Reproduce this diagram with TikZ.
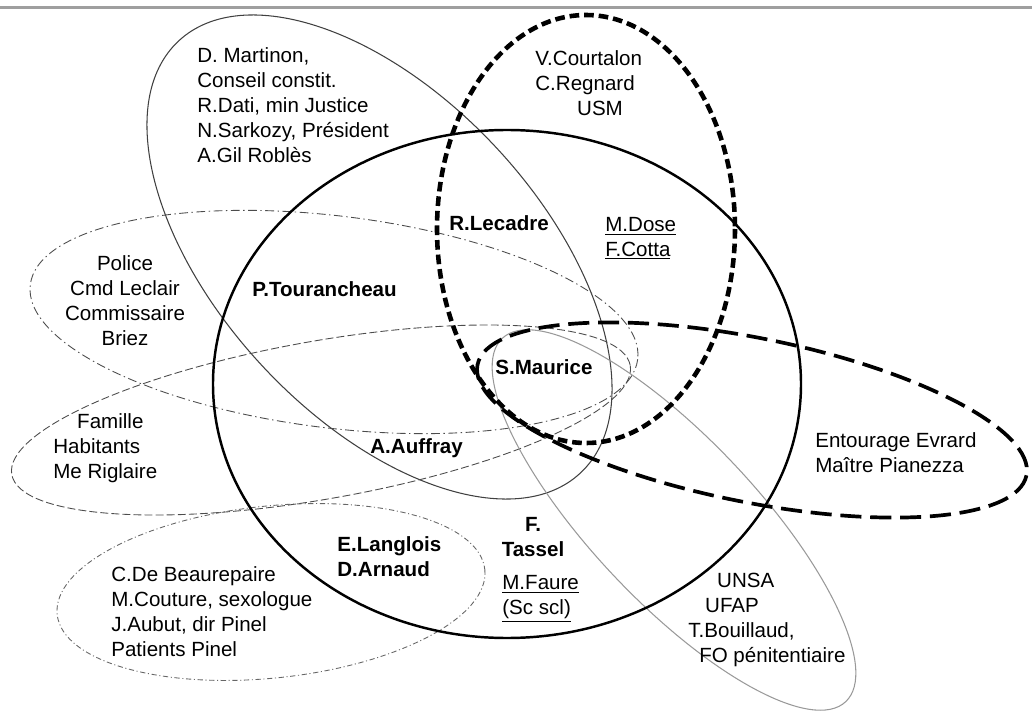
\documentclass[tikz,border=0pt]{standalone}
\usepackage{fontspec}
\setmainfont{Liberation Sans}
\usepackage{tikz}
\usepackage{xcolor}

\begin{document}
\begin{tikzpicture}[x=0.02cm,y=-0.02cm,
  every node/.style={font=\fontsize{11.7}{14.2}\selectfont,inner sep=0pt},
  txt/.style={align=left,anchor=west},
  ctxt/.style={align=center,anchor=center},
  bold/.style={font=\fontsize{11.7}{14.2}\selectfont\bfseries},
  thinring/.style={black!75,line width=0.6pt},
  mainring/.style={black,line width=1.4pt},
  usmring/.style={black,line width=2.6pt,dash pattern=on 5.5pt off 2.8pt},
  evrardring/.style={black,line width=2.1pt,dash pattern=on 12pt off 5pt},
  unsaring/.style={gray!80,line width=0.6pt},
  policering/.style={black!70,line width=0.5pt,dash pattern=on 5pt off 2pt on 0.8pt off 2pt},
  famillering/.style={black!70,line width=0.5pt,dash pattern=on 4.5pt off 1.8pt},
  pinelring/.style={black!60,line width=0.5pt,dash pattern=on 3pt off 1.5pt on 0.6pt off 1.5pt}]
\useasboundingbox (0,0) rectangle (1032,713);
\draw[gray!75,line width=1.2pt] (0,7.5) -- (1032,7.5);

\draw[thinring,rotate around={-47.1:(379.5,257)}] (379.5,257) ellipse (295 and 160);
\draw[policering,rotate around={-7:(334,322)}] (334,322) ellipse (306 and 106);
\draw[famillering,rotate around={10:(321,420)}] (321,420) ellipse (314 and 79);
\draw[pinelring,rotate around={6:(271,592)}] (271,592) ellipse (215 and 86);
\draw[unsaring,rotate around={-46.6:(674,520)}] (674,520) ellipse (250 and 82);
\draw[mainring] (507,384) ellipse (294 and 254);
\draw[usmring] (586,229) ellipse (149 and 214);
\draw[evrardring,rotate around={-11.4:(752,420)}] (752,420) ellipse (280 and 82);

\node[txt] (martinon) at (197,105) {D. Martinon,\\Conseil constit.\\R.Dati, min Justice\\N.Sarkozy, Président\\A.Gil Roblès};
\node[txt] (usm) at (535,83) {V.Courtalon\\C.Regnard\\\hspace*{23.8pt}USM};
\node[txt,bold] (lecadre) at (449,223) {R.Lecadre};
\node[txt] (dose) at (605,238.5) {\underline{M.Dose}\\\underline{F.Cotta}};
\node[ctxt] (police) at (125,300.5) {Police\\Cmd Leclair\\Commissaire\\Briez};
\node[txt,bold] (tourancheau) at (252,289) {P.Tourancheau};
\node[txt,bold] (maurice) at (495,367) {S.Maurice};
\node[txt,bold] (auffray) at (370,448) {A.Auffray};
\node[txt] (famille) at (53,448.5) {\hspace*{13.6pt}Famille\\Habitants\\Me Riglaire};
\node[txt] (evrard) at (815,452.5) {Entourage Evrard\\Maître Pianezza};
\node[ctxt,bold] (tassel) at (533,537.5) {F.\\Tassel};
\node[txt] (faure) at (502,598.5) {\underline{M.Faure}\\\underline{(Sc scl)}};
\node[txt,bold] (langlois) at (337,556.5) {E.Langlois\\D.Arnaud};
\node[txt] (pinel) at (111,611.5) {C.De Beaurepaire\\M.Couture, sexologue\\J.Aubut, dir Pinel\\Patients Pinel};
\node[txt] (unsa) at (688,620) {\hspace*{16.4pt}UNSA\\\hspace*{9.6pt}UFAP\\T.Bouillaud,\\\hspace*{6.2pt}FO pénitentiaire};
\end{tikzpicture}
\end{document}
